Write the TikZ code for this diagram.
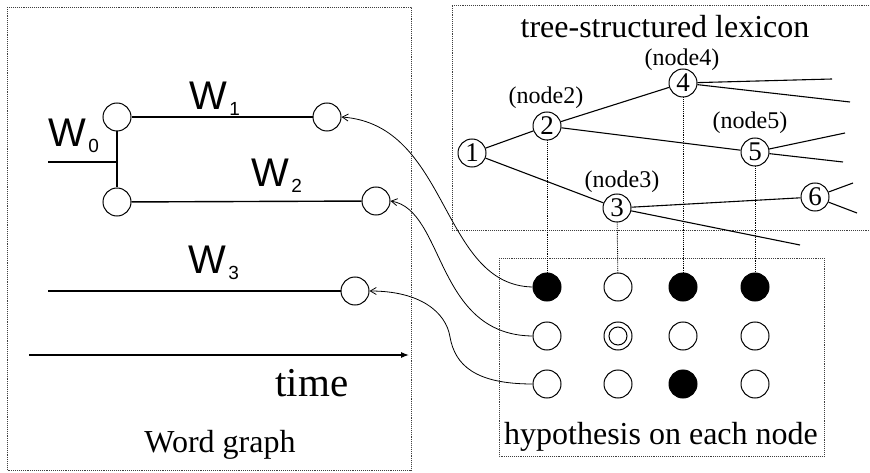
\documentclass[tikz,border=0pt]{standalone}
\usepackage{fontspec}
\setmainfont{Liberation Serif}
\newfontfamily\arialf{Liberation Sans}
\usetikzlibrary{arrows.meta}
\newcommand{\wlab}[1]{\arialf\fontsize{40}{40}\selectfont W\kern2pt\raisebox{-6pt}{\fontsize{19}{19}\selectfont #1}}
\begin{document}
\begin{tikzpicture}[x=1pt,y=-1pt,
  boxline/.style={draw=black!75,densely dotted,line width=0.9pt},
  wnode/.style={circle,draw,line width=1pt,minimum size=28pt,inner sep=0pt,fill=white},
  tnode/.style={circle,draw,line width=1pt,minimum size=28pt,inner sep=0pt,fill=white,font=\fontsize{27}{27}\selectfont},
  hnode/.style={circle,draw,line width=1pt,minimum size=28pt,inner sep=0pt,fill=white},
  hfull/.style={hnode,fill=black},
  wline/.style={line width=1.4pt},
  tline/.style={line width=1.1pt},
  vdot/.style={densely dotted,line width=0.9pt},
  curv/.style={line width=0.8pt,-{Straight Barb[length=6pt,width=7pt]}},
  bigtxt/.style={font=\fontsize{32}{32}\selectfont},
  lbl/.style={font=\fontsize{24}{24}\selectfont}
]
\useasboundingbox (0,0) rectangle (870,473);
% boxes
\draw[boxline] (7,7) rectangle (411,470);
\draw[boxline] (869,5) -- (452,5) -- (452,230) -- (869,230);
\draw[boxline] (499,258) rectangle (824,456);

% word graph
\node[wnode] (wA) at (117,117) {};
\node[wnode] (wB) at (327,117) {};
\node[wnode] (wC) at (117,202) {};
\node[wnode] (wD) at (376,201) {};
\node[wnode] (wE) at (355,291) {};
\coordinate (w0s) at (48,162);
\coordinate (w0e) at (117,162);
\coordinate (w3s) at (48,291);
\coordinate (ts) at (29,355);
\coordinate (te) at (409,355);
\draw[wline] (wA) -- (wB);
\draw[wline] (wC) -- (wD);
\draw[wline] (wA) -- (wC);
\draw[wline] (w0s) -- (w0e);
\draw[wline] (w3s) -- (wE);
\draw[line width=1.1pt,-{Latex[length=8pt,width=6pt]}] (ts) -- (te);
\node[anchor=base west] (lw0) at (45,147) {\wlab{0}};
\node[anchor=base west] (lw1) at (186,110) {\wlab{1}};
\node[anchor=base west] (lw2) at (248,187) {\wlab{2}};
\node[anchor=base west] (lw3) at (185,273) {\wlab{3}};
\node[font=\fontsize{41}{41}\selectfont] (time) at (312,383) {time};
\node[bigtxt] (wg) at (220,445) {Word graph};

% tree
\node[bigtxt] (tt) at (665,27) {tree-structured lexicon};
\node[tnode] (n1) at (472,153) {1};
\node[tnode] (n2) at (547,126) {2};
\node[tnode] (n4) at (683,83) {4};
\node[tnode] (n5) at (755,152) {5};
\node[tnode] (n3) at (617,208) {3};
\node[tnode] (n6) at (815,197) {6};
\node[lbl] (l2) at (546,98) {(node2)};
\node[lbl] (l4) at (682,60) {(node4)};
\node[lbl] (l5) at (750,123) {(node5)};
\node[lbl] (l3) at (622,182) {(node3)};
\coordinate (e4a) at (832,79);
\coordinate (e4b) at (850,102);
\coordinate (e5a) at (845,133);
\coordinate (e5b) at (843,162);
\coordinate (e6a) at (853,183);
\coordinate (e6b) at (857,213);
\coordinate (e3) at (800,245);
\draw[tline] (n1) -- (n2);
\draw[tline] (n1) -- (n3);
\draw[tline] (n2) -- (n4);
\draw[tline] (n2) -- (n5);
\draw[tline] (n3) -- (n6);
\draw[tline] (n3) -- (e3);
\draw[tline] (n4) -- (e4a);
\draw[tline] (n4) -- (e4b);
\draw[tline] (n5) -- (e5a);
\draw[tline] (n5) -- (e5b);
\draw[tline] (n6) -- (e6a);
\draw[tline] (n6) -- (e6b);

% hypothesis grid
\node[hfull] (h11) at (547,287) {};
\node[hnode] (h12) at (618,287) {};
\node[hfull] (h13) at (683,287) {};
\node[hfull] (h14) at (755,287) {};
\node[hnode] (h21) at (547,336) {};
\node[hnode] (h22) at (618,336) {};
\node[circle,draw,line width=1pt,minimum size=18pt,inner sep=0pt] (h22i) at (618,336) {};
\node[hnode] (h23) at (683,336) {};
\node[hnode] (h24) at (755,336) {};
\node[hnode] (h31) at (547,384) {};
\node[hnode] (h32) at (618,384) {};
\node[hfull] (h33) at (683,384) {};
\node[hnode] (h34) at (755,384) {};
\node[bigtxt] (hy) at (661,437) {hypothesis on each node};

% dotted links
\draw[vdot] (n2) -- (h11);
\draw[vdot] (n3) -- (h12);
\draw[vdot] (n4) -- (h13);
\draw[vdot] (n5) -- (h14);

% curved arrows
\draw[curv] (h11.west) .. controls (440,285) and (450,125) .. (wB.east);
\draw[curv] (h21.west) .. controls (435,335) and (445,210) .. (wD.east);
\draw[curv] (h31.west) .. controls (475,384) and (455,365) .. (450,337) .. controls (446,312) and (420,291) .. (wE.east);
\end{tikzpicture}
\end{document}
